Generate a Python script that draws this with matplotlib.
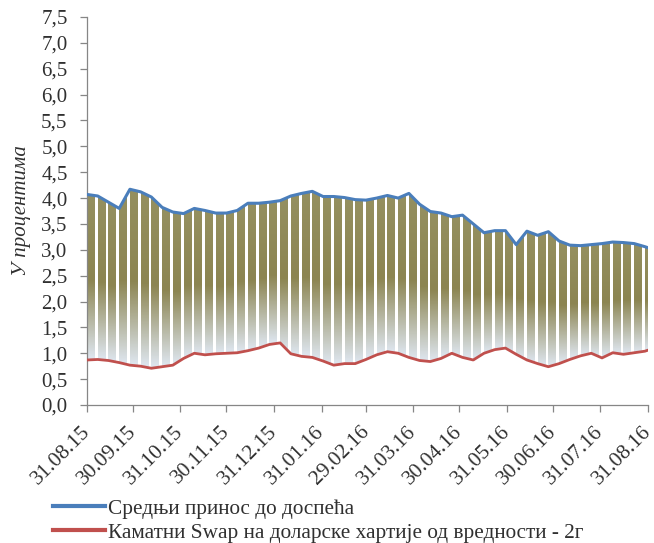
import numpy as np
import matplotlib
matplotlib.use("Agg")
import matplotlib.pyplot as plt
import matplotlib.dates as mdates
from matplotlib.colors import LinearSegmentedColormap
from matplotlib.patches import PathPatch
from matplotlib.lines import Line2D
from matplotlib.transforms import ScaledTranslation

plt.rcParams['font.family'] = ['Liberation Serif', 'DejaVu Serif']

# weekly observations (Mondays) from 31.08.15, plus the last day 31.08.16
start = np.datetime64('2015-08-31')
dates = np.append(start + np.arange(53) * 7, np.datetime64('2016-08-31'))

# average yield to maturity (%)
ytm = [4.07, 4.04, 3.92, 3.80, 4.17, 4.12, 4.02, 3.82, 3.73, 3.70,
       3.80, 3.76, 3.71, 3.71, 3.76, 3.90, 3.90, 3.92, 3.95, 4.04,
       4.09, 4.13, 4.03, 4.03, 4.01, 3.97, 3.96, 4.00, 4.05, 4.00,
       4.09, 3.88, 3.74, 3.71, 3.64, 3.67, 3.50, 3.33, 3.37, 3.37,
       3.10, 3.36, 3.28, 3.35, 3.17, 3.09, 3.08, 3.10, 3.12, 3.15,
       3.14, 3.12, 3.06, 3.04]

# interest rate swap, USD securities, 2y (%)
swap = [0.87, 0.88, 0.86, 0.82, 0.77, 0.75, 0.71, 0.74, 0.77, 0.90,
        1.00, 0.97, 0.99, 1.00, 1.01, 1.05, 1.10, 1.17, 1.20, 0.99,
        0.94, 0.92, 0.85, 0.77, 0.80, 0.80, 0.88, 0.97, 1.03, 1.00,
        0.92, 0.86, 0.84, 0.90, 1.00, 0.92, 0.87, 1.00, 1.07, 1.10,
        0.98, 0.87, 0.80, 0.74, 0.80, 0.88, 0.95, 1.00, 0.91, 1.01,
        0.98, 1.01, 1.04, 1.06]

tick_dates = ['2015-08-31', '2015-09-30', '2015-10-31', '2015-11-30',
              '2015-12-31', '2016-01-31', '2016-02-29', '2016-03-31',
              '2016-04-30', '2016-05-31', '2016-06-30', '2016-07-31',
              '2016-08-31']

label_ytm = 'Средњи принос до доспећа'
label_swap = 'Каматни Swap на доларске хартије од вредности - 2г'
ylabel = 'У процентима'

blue = '#4A7EBB'
red = '#C0504D'
grey = '#868686'
txt = '#303030'
fs = 15

x = mdates.date2num(dates)
ytm = np.array(ytm)
swap = np.array(swap)

fig = plt.figure(figsize=(6.54, 5.43), dpi=100)
ax = fig.add_axes([87 / 654, 1 - 405 / 543, (648 - 87) / 654, (405 - 17) / 543])

# region between the two series, used as clip for the gradient bars
poly = ax.fill_between(x, swap, ytm, color='none', lw=0)
clip = PathPatch(poly.get_paths()[0], transform=ax.transData,
                 facecolor='none', edgecolor='none')
ax.add_patch(clip)

cmap = LinearSegmentedColormap.from_list(
    'bars', [(0.0, '#DFE7F1'), (0.48, '#8C8551'), (1.0, '#959060')])
grad = np.linspace(0, 1, 200).reshape(-1, 1)

# one bar per working week (Mon-Fri), weekends left blank
for i in range(len(x) - 1):
    x0 = x[i]
    x1 = min(x[i] + 5, x[-1])
    lo = min(swap[i], swap[i + 1])
    hi = max(ytm[i], ytm[i + 1])
    im = ax.imshow(grad, extent=[x0, x1, lo, hi], origin='lower', cmap=cmap,
                   aspect='auto', interpolation='bilinear', zorder=1)
    im.set_clip_path(clip)

ax.plot(x, ytm, color=blue, lw=2.2, zorder=3, solid_joinstyle='round')
ax.plot(x, swap, color=red, lw=2.0, zorder=3, solid_joinstyle='round')

ax.set_xlim(x[0], x[-1])
ax.set_ylim(0, 7.5)

yt = np.arange(0, 7.51, 0.5)
ax.set_yticks(yt)
ax.set_yticklabels([f'{v:.1f}'.replace('.', ',') for v in yt])

td = np.array(tick_dates, dtype='datetime64[D]')
xt = mdates.date2num(td)
ax.set_xticks(xt)

for s in ['top', 'right']:
    ax.spines[s].set_visible(False)
for s in ['left', 'bottom']:
    ax.spines[s].set_color(grey)
    ax.spines[s].set_linewidth(0.9)

ax.tick_params(axis='both', direction='out', length=5, width=0.9, color=grey,
               labelsize=fs, labelcolor=txt)
ax.tick_params(axis='y', pad=9)
ax.tick_params(axis='x', labelbottom=False)

# rotated date labels, baseline end just below each tick
off = ax.get_xaxis_transform() + ScaledTranslation(0.035, -0.27, fig.dpi_scale_trans)
for xv, d in zip(xt, td):
    ax.text(xv, 0, d.item().strftime('%d.%m.%y'), transform=off, rotation=45,
            ha='right', va='baseline', rotation_mode='anchor',
            fontsize=15.4, color=txt, clip_on=False)

ax.set_ylabel(ylabel, fontstyle='italic', fontsize=fs, color=txt, labelpad=7)

handles = [Line2D([], [], color=blue, lw=3),
           Line2D([], [], color=red, lw=3)]
fig.legend(handles, [label_ytm, label_swap], loc='upper left',
           bbox_to_anchor=(53 / 654, 1 - 499 / 543), frameon=False,
           fontsize=15.3, handlelength=2.45, handletextpad=0.14,
           labelspacing=0.18, borderaxespad=0, borderpad=0,
           labelcolor=txt)

fig.savefig('out.png', dpi=100)
